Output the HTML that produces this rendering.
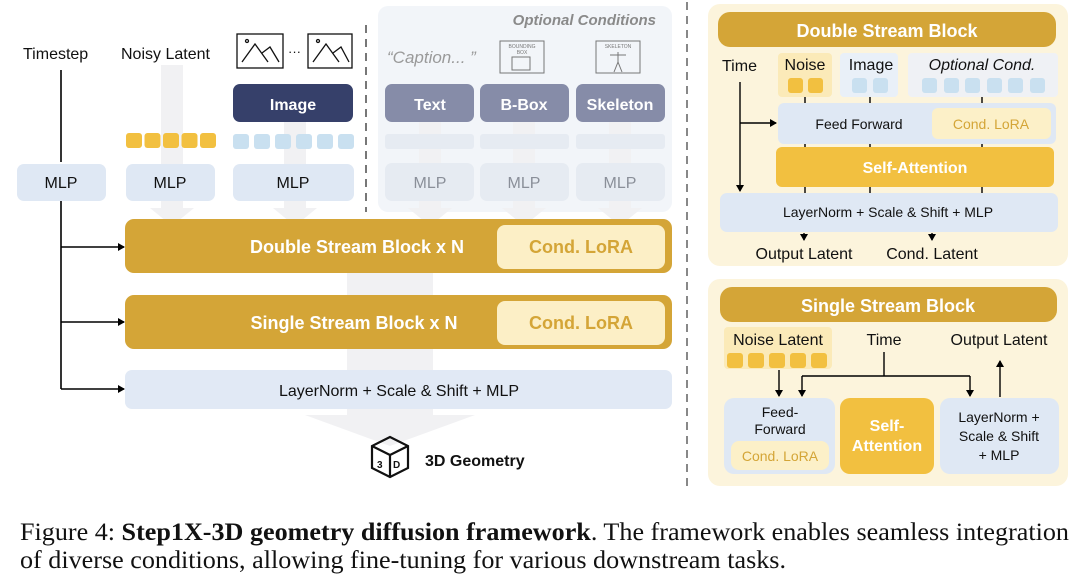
<!DOCTYPE html>
<html><head><meta charset="utf-8"><style>
html,body{margin:0;padding:0;background:#fff;}
svg{display:block;}
text{font-family:"Liberation Sans",sans-serif;}
</style></head><body>
<svg width="1080" height="580" viewBox="0 0 1080 580" xmlns="http://www.w3.org/2000/svg">
<defs>
<marker id="ah" markerWidth="8" markerHeight="8" refX="6" refY="4" orient="auto" markerUnits="userSpaceOnUse"><path d="M0,0 L7,4 L0,8 z" fill="#000"/></marker>
</defs>
<rect width="1080" height="580" fill="#fff"/>

<!-- optional conditions panel -->
<rect x="378" y="6" width="294" height="206" rx="10" fill="#f2f5f9"/>

<!-- faint gray flow arrows -->
<g fill="#f1f1f3">
<rect x="161" y="65" width="22" height="145"/><path d="M150,208 L194,208 L172,226 z"/>
<rect x="284" y="122" width="22" height="88"/><path d="M273,208 L317,208 L295,226 z"/>
<rect x="419" y="122" width="22" height="88"/><path d="M408,208 L452,208 L430,226 z"/>
<rect x="513" y="122" width="22" height="88"/><path d="M502,208 L546,208 L524,226 z"/>
<rect x="609" y="122" width="22" height="88"/><path d="M598,208 L642,208 L620,226 z"/>
<rect x="347" y="270" width="86" height="150"/><path d="M305,415 L475,415 L390,446 z"/>
</g>

<!-- dashed separators -->
<line x1="366" y1="25" x2="366" y2="212" stroke="#777" stroke-width="2" stroke-dasharray="8,6"/>
<line x1="687" y1="2" x2="687" y2="488" stroke="#888" stroke-width="2" stroke-dasharray="8,6"/>

<!-- top labels -->
<text x="23" y="59" font-size="16" fill="#111">Timestep</text>
<text x="121" y="59" font-size="16" fill="#111">Noisy Latent</text>
<g fill="none" stroke="#111" stroke-width="1.3">
<rect x="237" y="34" width="46" height="34"/>
<path d="M242,62 L255,44 L268,62 M262,53 L270,47 L279,62"/>
<circle cx="247" cy="41" r="1.5"/>
<rect x="308" y="34" width="44" height="34"/>
<path d="M313,62 L326,44 L339,62 M333,53 L341,47 L349,62"/>
<circle cx="318" cy="41" r="1.5"/>
</g>
<text x="288" y="56" font-size="13" fill="#111">···</text>

<!-- Image box -->
<rect x="233" y="84" width="120" height="38" rx="7" fill="#36406a"/>
<text x="293" y="110" font-size="16" font-weight="bold" fill="#fff" text-anchor="middle">Image</text>

<!-- tokens -->
<g fill="#f2c040">
<rect x="126" y="133" width="16" height="15" rx="3"/><rect x="144.5" y="133" width="16" height="15" rx="3"/><rect x="163" y="133" width="16" height="15" rx="3"/><rect x="181.5" y="133" width="16" height="15" rx="3"/><rect x="200" y="133" width="16" height="15" rx="3"/>
</g>
<g fill="#c9e0f0">
<rect x="233" y="134" width="16" height="15" rx="3"/><rect x="254" y="134" width="16" height="15" rx="3"/><rect x="275" y="134" width="16" height="15" rx="3"/><rect x="296" y="134" width="16" height="15" rx="3"/><rect x="317" y="134" width="16" height="15" rx="3"/><rect x="338" y="134" width="16" height="15" rx="3"/>
</g>

<!-- MLP boxes -->
<g fill="#dfe8f4">
<rect x="17" y="164" width="89" height="37" rx="7"/>
<rect x="126" y="164" width="89" height="37" rx="7"/>
<rect x="233" y="164" width="121" height="37" rx="7"/>
</g>
<g font-size="16" fill="#111" text-anchor="middle">
<text x="61" y="188">MLP</text><text x="170" y="188">MLP</text><text x="293" y="188">MLP</text>
</g>

<!-- optional conditions content -->
<text x="656" y="25" font-size="15" font-style="italic" font-weight="bold" fill="#8a8a8a" text-anchor="end">Optional Conditions</text>
<text x="387" y="63" font-size="17" font-style="italic" fill="#9a9a9a">“Caption... ”</text>
<g fill="none" stroke="#777" stroke-width="1">
<rect x="500" y="41" width="44" height="32"/>
<rect x="512" y="57" width="18" height="13"/>
<rect x="596" y="41" width="44" height="32"/>
<path d="M618,52 L618,62 L614,72 M618,62 L622,72 M610,55 L626,55"/>
</g>
<text x="522" y="48" font-size="5" fill="#777" text-anchor="middle">BOUNDING</text>
<text x="522" y="54" font-size="5" fill="#777" text-anchor="middle">BOX</text>
<text x="618" y="48" font-size="5" fill="#777" text-anchor="middle">SKELETON</text>
<g fill="#868ca8">
<rect x="385" y="84" width="89" height="38" rx="7"/>
<rect x="480" y="84" width="89" height="38" rx="7"/>
<rect x="576" y="84" width="89" height="38" rx="7"/>
</g>
<g font-size="16" font-weight="bold" fill="#fff" text-anchor="middle">
<text x="430" y="110">Text</text><text x="524" y="110">B-Box</text><text x="620" y="110">Skeleton</text>
</g>
<g fill="#e6ebf2">
<rect x="385" y="134" width="89" height="15" rx="3"/>
<rect x="480" y="134" width="89" height="15" rx="3"/>
<rect x="576" y="134" width="89" height="15" rx="3"/>
<rect x="385" y="163" width="89" height="38" rx="7"/>
<rect x="480" y="163" width="89" height="38" rx="7"/>
<rect x="576" y="163" width="89" height="38" rx="7"/>
</g>
<g font-size="16" fill="#8a8f99" text-anchor="middle">
<text x="430" y="188">MLP</text><text x="524" y="188">MLP</text><text x="620" y="188">MLP</text>
</g>

<!-- main blocks -->
<rect x="125" y="219" width="547" height="54" rx="9" fill="#d4a537"/>
<rect x="497" y="225" width="168" height="44" rx="8" fill="#fcefc6"/>
<text x="357" y="253" font-size="18" font-weight="bold" fill="#fff" text-anchor="middle">Double Stream Block  x  N</text>
<text x="581" y="253" font-size="18" font-weight="bold" fill="#d4a537" text-anchor="middle">Cond. LoRA</text>

<rect x="125" y="295" width="547" height="54" rx="9" fill="#d4a537"/>
<rect x="497" y="301" width="168" height="44" rx="8" fill="#fcefc6"/>
<text x="354" y="329" font-size="18" font-weight="bold" fill="#fff" text-anchor="middle">Single Stream Block  x  N</text>
<text x="581" y="329" font-size="18" font-weight="bold" fill="#d4a537" text-anchor="middle">Cond. LoRA</text>

<rect x="125" y="370" width="547" height="39" rx="7" fill="#e1e9f5"/>
<text x="399" y="396" font-size="16" fill="#111" text-anchor="middle">LayerNorm + Scale &amp; Shift + MLP</text>

<!-- timestep line -->
<g stroke="#000" stroke-width="1.6" fill="none">
<line x1="61" y1="70" x2="61" y2="162"/>
<line x1="61" y1="201" x2="61" y2="389"/>
<line x1="61" y1="247" x2="124" y2="247" marker-end="url(#ah)"/>
<line x1="61" y1="322" x2="124" y2="322" marker-end="url(#ah)"/>
<line x1="61" y1="389" x2="124" y2="389" marker-end="url(#ah)"/>
</g>

<!-- 3D geometry -->
<g fill="none" stroke="#111" stroke-width="2.2">
<path d="M390,437 L408,446 L408,468 L390,477 L372,468 L372,446 z"/>
<path d="M372,446 L390,455 L408,446 M390,455 L390,477"/>
</g>
<text x="377" y="468" font-size="10" font-weight="bold" fill="#111">3</text>
<text x="393" y="468" font-size="10" font-weight="bold" fill="#111">D</text>
<text x="425" y="466" font-size="16" font-weight="bold" fill="#111">3D Geometry</text>

<!-- RIGHT: Double stream -->
<rect x="708" y="4" width="360" height="262" rx="12" fill="#fcf4dc"/>
<rect x="718" y="12" width="338" height="35" rx="12" fill="#d4a537"/>
<text x="887" y="37" font-size="18" font-weight="bold" fill="#fff" text-anchor="middle">Double Stream Block</text>
<rect x="778" y="53" width="54" height="44" rx="4" fill="#fbeab8"/>
<rect x="840" y="53" width="58" height="44" rx="4" fill="#e9f0f8"/>
<rect x="908" y="53" width="150" height="44" rx="4" fill="#eff1f5"/>
<text x="722" y="71" font-size="16" fill="#111">Time</text>
<text x="805" y="70" font-size="16" fill="#111" text-anchor="middle">Noise</text>
<text x="871" y="70" font-size="16" fill="#111" text-anchor="middle">Image</text>
<text x="982" y="70" font-size="16" font-style="italic" fill="#111" text-anchor="middle">Optional Cond.</text>
<g fill="#f2c040"><rect x="788" y="78" width="15" height="15" rx="3"/><rect x="808" y="78" width="15" height="15" rx="3"/></g>
<g fill="#c9e0f0">
<rect x="852" y="78" width="15" height="15" rx="3"/><rect x="873" y="78" width="15" height="15" rx="3"/>
<rect x="922" y="78" width="15" height="15" rx="3"/><rect x="944" y="78" width="15" height="15" rx="3"/><rect x="965" y="78" width="15" height="15" rx="3"/><rect x="987" y="78" width="15" height="15" rx="3"/><rect x="1008" y="78" width="15" height="15" rx="3"/><rect x="1030" y="78" width="15" height="15" rx="3"/>
</g>
<rect x="778" y="103" width="278" height="41" rx="6" fill="#dfe8f4"/>
<rect x="932" y="108" width="119" height="31" rx="6" fill="#fcf0c8"/>
<text x="859" y="129" font-size="14" fill="#111" text-anchor="middle">Feed Forward</text>
<text x="991" y="129" font-size="14" fill="#d4a537" text-anchor="middle">Cond. LoRA</text>
<rect x="776" y="147" width="278" height="40" rx="6" fill="#f2c040"/>
<text x="915" y="173" font-size="16" font-weight="bold" fill="#fff" text-anchor="middle">Self-Attention</text>
<rect x="720" y="193" width="338" height="39" rx="7" fill="#dfe8f4"/>
<text x="888" y="217" font-size="14" fill="#111" text-anchor="middle">LayerNorm + Scale &amp; Shift + MLP</text>
<g stroke="#000" stroke-width="1.4" fill="none">
<line x1="805" y1="97" x2="805" y2="103"/><line x1="870" y1="97" x2="870" y2="103"/><line x1="982" y1="97" x2="982" y2="103"/>
<line x1="805" y1="144" x2="805" y2="147"/><line x1="870" y1="144" x2="870" y2="147"/><line x1="982" y1="144" x2="982" y2="147"/>
<line x1="805" y1="187" x2="805" y2="193"/><line x1="870" y1="187" x2="870" y2="193"/><line x1="982" y1="187" x2="982" y2="193"/>
<line x1="740" y1="82" x2="740" y2="191" marker-end="url(#ah)"/>
<line x1="740" y1="123" x2="776" y2="123" marker-end="url(#ah)"/>
<line x1="804" y1="233" x2="804" y2="240" marker-end="url(#ah)"/>
<line x1="932" y1="233" x2="932" y2="240" marker-end="url(#ah)"/>
</g>
<text x="804" y="259" font-size="16" fill="#111" text-anchor="middle">Output Latent</text>
<text x="932" y="259" font-size="16" fill="#111" text-anchor="middle">Cond. Latent</text>

<!-- RIGHT: Single stream -->
<rect x="708" y="279" width="360" height="207" rx="12" fill="#fcf4dc"/>
<rect x="720" y="287" width="337" height="35" rx="12" fill="#d4a537"/>
<text x="888" y="312" font-size="18" font-weight="bold" fill="#fff" text-anchor="middle">Single Stream Block</text>
<rect x="724" y="327" width="108" height="42" rx="4" fill="#fbeab8"/>
<text x="778" y="345" font-size="16" fill="#111" text-anchor="middle">Noise Latent</text>
<text x="884" y="345" font-size="16" fill="#111" text-anchor="middle">Time</text>
<text x="999" y="345" font-size="16" fill="#111" text-anchor="middle">Output Latent</text>
<g fill="#f2c040">
<rect x="727" y="353" width="16" height="15" rx="3"/><rect x="748" y="353" width="16" height="15" rx="3"/><rect x="769" y="353" width="16" height="15" rx="3"/><rect x="790" y="353" width="16" height="15" rx="3"/><rect x="811" y="353" width="16" height="15" rx="3"/>
</g>
<rect x="724" y="398" width="111" height="76" rx="10" fill="#dfe8f4"/>
<rect x="731" y="441" width="98" height="29" rx="8" fill="#fcf0c8"/>
<rect x="840" y="398" width="94" height="76" rx="10" fill="#f2c040"/>
<rect x="940" y="398" width="119" height="76" rx="10" fill="#dfe8f4"/>
<g font-size="14" fill="#111" text-anchor="middle">
<text x="780" y="417">Feed-</text><text x="780" y="434">Forward</text>
<text x="999" y="422">LayerNorm +</text><text x="999" y="441">Scale &amp; Shift</text><text x="999" y="460">+ MLP</text>
</g>
<text x="780" y="461" font-size="14" fill="#d4a537" text-anchor="middle">Cond. LoRA</text>
<text x="887" y="431" font-size="16" font-weight="bold" fill="#fff" text-anchor="middle">Self-</text>
<text x="887" y="451" font-size="16" font-weight="bold" fill="#fff" text-anchor="middle">Attention</text>
<g stroke="#000" stroke-width="1.4" fill="none">
<line x1="779" y1="370" x2="779" y2="396" marker-end="url(#ah)"/>
<line x1="884" y1="352" x2="884" y2="376"/>
<line x1="802" y1="376" x2="970" y2="376"/>
<line x1="802" y1="376" x2="802" y2="396" marker-end="url(#ah)"/>
<line x1="970" y1="376" x2="970" y2="396" marker-end="url(#ah)"/>
<line x1="1000" y1="397" x2="1000" y2="361" marker-end="url(#ah)"/>
</g>

<!-- caption -->
<text x="20" y="540" style="font-family:'Liberation Serif',serif" font-size="25" fill="#111" textLength="1049" lengthAdjust="spacingAndGlyphs">Figure 4:  <tspan font-weight="bold">Step1X-3D geometry diffusion framework</tspan>. The framework enables seamless integration</text>
<text x="20" y="568" style="font-family:'Liberation Serif',serif" font-size="25" fill="#111" textLength="766" lengthAdjust="spacingAndGlyphs">of diverse conditions, allowing fine-tuning for various downstream tasks.</text>
</svg>
</body></html>
